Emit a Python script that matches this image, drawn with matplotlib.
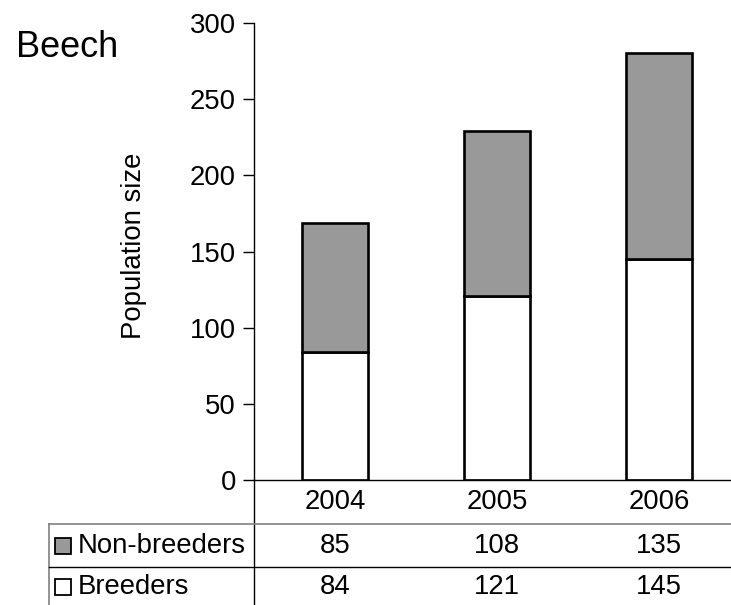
import matplotlib
matplotlib.use("Agg")
import matplotlib.pyplot as plt
from matplotlib.lines import Line2D
from matplotlib.patches import Rectangle
from matplotlib import transforms

years = ["2004", "2005", "2006"]
breeders = [84, 121, 145]
non_breeders = [85, 108, 135]
series_names = ["Non-breeders", "Breeders"]
yticks = [0, 50, 100, 150, 200, 250, 300]

plt.rcParams["font.family"] = ["Liberation Sans", "DejaVu Sans"]
FS = 19.8

W, H = 731, 605
fig = plt.figure(figsize=(W / 100, H / 100), dpi=100)

def fx(px):
    return px / W

def fy(py):
    return 1 - py / H

ax = fig.add_axes([fx(254), fy(480), fx(731) - fx(254), fy(23) - fy(480)])

x = range(len(years))
gray = "#999999"
ax.bar(x, breeders, width=0.41, color="white", edgecolor="black", linewidth=1.9)
ax.bar(x, non_breeders, width=0.41, bottom=breeders, color=gray,
       edgecolor="black", linewidth=1.9)

ax.set_xlim(-0.5, 477 / 162 - 0.5)
ax.set_ylim(0, 300)
ax.set_yticks(yticks)
ax.tick_params(axis="y", direction="out", length=8, width=1, pad=5, labelsize=FS)
ax.set_xticks([])
for side in ["top", "right"]:
    ax.spines[side].set_visible(False)
ax.spines["left"].set_linewidth(1)
ax.spines["bottom"].set_linewidth(1)

fig.text(fx(16), fy(57), "Beech", fontsize=26, ha="left", va="baseline")
fig.text(fx(134), fy(246), "Population size", fontsize=FS, rotation=90,
         ha="center", va="center")

# data table under the axis
tr = transforms.blended_transform_factory(ax.transData, fig.transFigure)
for i, yr in enumerate(years):
    ax.text(i, fy(502), yr, transform=tr, fontsize=FS, ha="center", va="center")
    ax.text(i, fy(546), str(non_breeders[i]), transform=tr, fontsize=FS,
            ha="center", va="center")
    ax.text(i, fy(587), str(breeders[i]), transform=tr, fontsize=FS,
            ha="center", va="center")

line_kw = dict(transform=fig.transFigure, clip_on=False)
fig.add_artist(Line2D([fx(254), fx(254)], [fy(480), fy(605)], color="black", lw=1, **line_kw))
fig.add_artist(Line2D([fx(49), fx(731)], [fy(524), fy(524)], color="#808080", lw=1.2, **line_kw))
fig.add_artist(Line2D([fx(49), fx(49)], [fy(524), fy(605)], color="#808080", lw=1.2, **line_kw))
fig.add_artist(Line2D([fx(49), fx(731)], [fy(567), fy(567)], color="black", lw=1, **line_kw))

for name, fill, yc in [(series_names[0], gray, 546), (series_names[1], "white", 587)]:
    fig.add_artist(Rectangle((fx(55), fy(yc + 8)), fx(16), fy(0) - fy(16),
                             facecolor=fill, edgecolor="black", lw=1.3,
                             transform=fig.transFigure))
    fig.text(fx(78), fy(yc), name, fontsize=FS, ha="left", va="center")

fig.savefig("out.png", dpi=100)
